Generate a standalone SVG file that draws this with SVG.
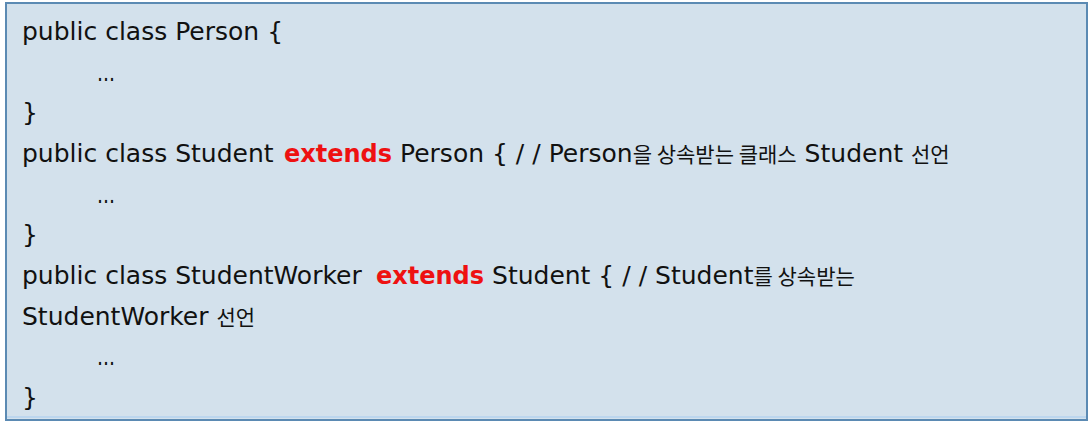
<svg xmlns="http://www.w3.org/2000/svg" width="1090" height="431" viewBox="0 0 1090 431">
<style>
.code{font-family:"DejaVu Sans","Noto Sans CJK KR",sans-serif;font-size:25px;fill:#111111}
.kw{font-weight:bold;font-size:24px;fill:#ee1111}
.ko{font-family:"Noto Sans CJK KR",sans-serif;font-size:21px}
.sl{letter-spacing:8px}
</style>
<rect width="1090" height="431" fill="#ffffff"/>
<g id="codebox">
<rect x="6" y="3" width="1081" height="417" fill="#d3e1ec" stroke="#5b8ab3" stroke-width="2"/>
<line x1="7" y1="417" x2="1086" y2="417" stroke="#bcd6ee" stroke-width="2"/>
</g>
<g id="code" class="code">
<text x="22" y="40">public class Person {</text>
<text x="97" y="81" textLength="18" lengthAdjust="spacingAndGlyphs">...</text>
<text x="22" y="121">}</text>
<text x="22" y="162">public class Student<tspan class="kw" x="284">extends</tspan> Person { <tspan class="sl">//</tspan>Person<tspan class="ko">을 상속받는 클래스</tspan> Student <tspan class="ko">선언</tspan></text>
<text x="97" y="203" textLength="18" lengthAdjust="spacingAndGlyphs">...</text>
<text x="22" y="243">}</text>
<text x="22" y="284">public class StudentWorker<tspan class="kw" x="376">extends</tspan> Student { <tspan class="sl">//</tspan>Student<tspan class="ko">를 상속받는</tspan></text>
<text x="22" y="325">StudentWorker <tspan class="ko">선언</tspan></text>
<text x="97" y="365" textLength="18" lengthAdjust="spacingAndGlyphs">...</text>
<text x="22" y="406">}</text>
</g>
</svg>
